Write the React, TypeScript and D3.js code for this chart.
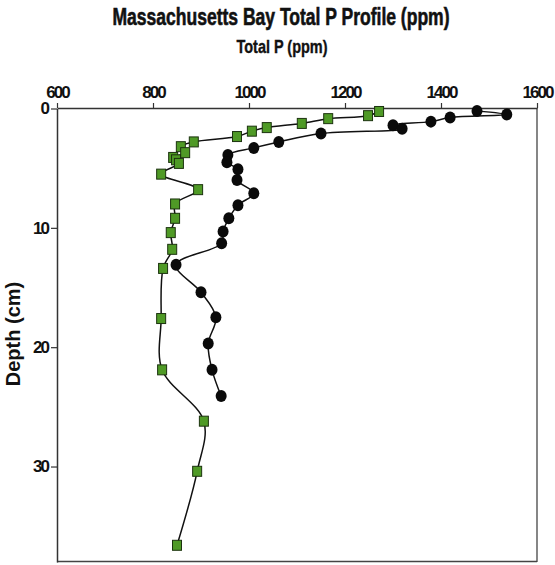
import React, { useEffect, useRef } from "react";
import * as d3 from "d3";

// Total P (ppm) vs depth (cm)
const greenDepth = [0.25, 0.6, 0.85, 1.25, 1.6, 1.9, 2.35, 2.8, 3.2, 3.7, 4.1, 4.3, 4.6, 5.5, 6.8, 8.0, 9.2, 10.4, 11.8, 13.4, 17.6, 21.9, 26.2, 30.4, 36.6];
const greenP = [1271, 1248, 1165, 1110, 1037, 1006, 975, 885, 858, 867, 842, 848, 854, 817, 894, 846, 846, 837, 840, 821, 817, 819, 906, 892, 850];

const blackDepth = [0.2, 0.5, 0.75, 1.1, 1.4, 1.7, 2.1, 2.8, 3.3, 3.9, 4.5, 5.1, 6.0, 7.1, 8.1, 9.2, 10.3, 11.3, 13.1, 15.4, 17.5, 19.7, 21.9, 24.1];
const blackP = [1475, 1537, 1419, 1379, 1300, 1319, 1150, 1062, 1010, 956, 954, 977, 975, 1010, 977, 958, 946, 943, 848, 900, 931, 915, 923, 942];

const xTicks = [600, 800, 1000, 1200, 1400, 1600];
const yTicks = [0, 10, 20, 30];

const title = "Massachusetts Bay Total P Profile (ppm)";
const xTitle = "Total P (ppm)";
const yTitle = "Depth (cm)";

export default function App() {
  const xAxisRef = useRef<SVGGElement>(null);
  const yAxisRef = useRef<SVGGElement>(null);

  const width = 555, height = 565;
  const margin = { top: 108, right: 18, bottom: 3, left: 57 };
  const innerW = 480, innerH = height - margin.top - margin.bottom;

  const x = d3.scaleLinear().domain([600, 1600]).range([0, innerW]);
  const y = d3.scaleLinear().domain([0, 38]).range([0.5, innerH]);

  const green = greenDepth.map((d, i) => ({ d, p: greenP[i] }));
  const black = blackDepth.map((d, i) => ({ d, p: blackP[i] }));

  const line = d3.line<{ d: number; p: number }>()
    .x(v => x(v.p))
    .y(v => y(v.d))
    .curve(d3.curveCatmullRom.alpha(0.5));

  useEffect(() => {
    const gx = d3.select(xAxisRef.current!);
    gx.call(d3.axisTop(x).tickValues(xTicks).tickFormat(d3.format("d")).tickSize(5).tickSizeOuter(0).tickPadding(5));
    const gy = d3.select(yAxisRef.current!);
    gy.call(d3.axisLeft(y).tickValues(yTicks).tickFormat(d3.format("d")).tickSize(6).tickSizeOuter(0).tickPadding(3));
    [gx, gy].forEach(g => {
      g.select(".domain").attr("stroke", "#333").attr("stroke-width", 1.5);
      g.selectAll(".tick line").attr("stroke", "#333").attr("stroke-width", 1.2);
      g.selectAll(".tick text")
        .attr("fill", "#111")
        .style("font-family", "Liberation Sans, Arial, sans-serif")
        .style("font-weight", "bold")
        .style("font-size", "17px")
        .style("letter-spacing", "-2px");
    });
  }, []);

  const font = "Liberation Sans, Arial, sans-serif";

  return (
    <svg width={width} height={height} style={{ position: "absolute", left: 0, top: 0, background: "#fff" }}>
      <text x={281} y={25} textAnchor="middle" textLength={337} lengthAdjust="spacingAndGlyphs"
        stroke="#111" strokeWidth={0.6}
        style={{ fontFamily: font, fontWeight: "bold", fontSize: 23 }} fill="#111">
        {title}
      </text>
      <text x={282} y={53} textAnchor="middle" textLength={91} lengthAdjust="spacingAndGlyphs"
        stroke="#111" strokeWidth={0.4}
        style={{ fontFamily: font, fontWeight: "bold", fontSize: 19 }} fill="#111">
        {xTitle}
      </text>
      <text transform="translate(20,334) rotate(-90)" textAnchor="middle"
        style={{ fontFamily: font, fontWeight: "bold", fontSize: 20 }} fill="#111">
        {yTitle}
      </text>
      <g transform={`translate(${margin.left},${margin.top})`}>
        <line x1={innerW} x2={innerW} y1={0} y2={innerH} stroke="#444" strokeWidth={1.3} />
        <line x1={0} x2={innerW} y1={innerH - 0.5} y2={innerH - 0.5} stroke="#444" strokeWidth={1.3} />
        <g ref={xAxisRef} />
        <g ref={yAxisRef} />
        <path d={line(black) || ""} fill="none" stroke="#111" strokeWidth={1.5} />
        <path d={line(green) || ""} fill="none" stroke="#111" strokeWidth={1.5} />
        {black.map((v, i) => (
          <ellipse key={"b" + i} cx={x(v.p)} cy={y(v.d)} rx={5.5} ry={6} fill="#0a0a0a" />
        ))}
        {green.map((v, i) => (
          <rect key={"g" + i} x={x(v.p) - 4.5} y={y(v.d) - 5} width={9} height={10}
            fill="#4f9a26" stroke="#1c330f" strokeWidth={1} />
        ))}
      </g>
    </svg>
  );
}
